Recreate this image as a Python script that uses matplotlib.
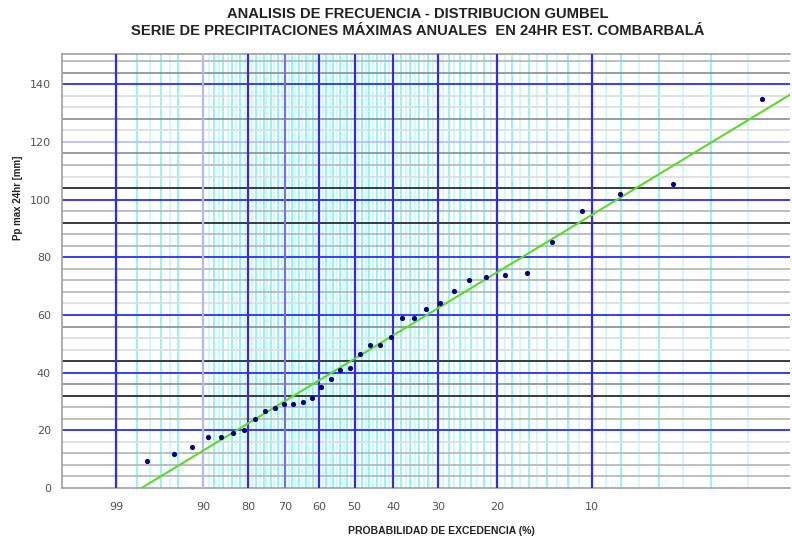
import numpy as np
import matplotlib.pyplot as plt

# Annual max 24h precipitation, sorted ascending (mm)
pp = [9.4, 11.9, 14.3, 17.8, 17.8, 18.9, 20.1, 24.1, 26.8, 27.6,
      29.0, 29.0, 29.9, 31.2, 34.9, 37.7, 40.9, 41.5, 46.4, 49.5,
      49.5, 52.4, 59.0, 59.0, 62.2, 64.0, 68.3, 72.0, 73.0, 73.7,
      74.6, 85.3, 96.0, 101.9, 105.4, 135.0]

# Gumbel fit (location, scale)
u_fit = 35.1
a_fit = 26.5

# Labelled exceedance probabilities (%)
major_p = [99, 90, 80, 70, 60, 50, 40, 30, 20, 10]
major_col = ['#2a2aff', '#b4b4ff', '#2a2aff', '#7070ff', '#2a2aff',
             '#2a2aff', '#2a2aff', '#2a2aff', '#2a2aff', '#2a2aff']

# minor cyan lines (%), missing a few near 90
minor_p = [p for p in range(3, 99) if p not in major_p and p not in (91, 92, 93)]

# Horizontal grid every 4 mm: shade codes (b=blue, lb=light blue, k=black, d=dark, g=gray, l=light)
h_levels = list(range(4, 152, 4))
h_shade = ['g', 'g', 'g', 'l', 'b', 'g', 'g', 'k', 'd', 'b',
           'k', 'l', 'l', 'd', 'b', 'l', 'g', 'g', 'g', 'b',
           'g', 'g', 'k', 'g', 'b', 'k', 'l', 'g', 'd', 'lb',
           'l', 'd', 'l', 'l', 'b', 'd', 'g']

shade_col = {'b': '#3a3aff', 'lb': '#b8b8ff', 'k': '#3a3a3a', 'd': '#8c8c8c',
             'g': '#b4b4b4', 'l': '#dcdcdc'}


def red(p_exc):
    # Gumbel reduced variate from exceedance probability in %
    F = 1 - np.asarray(p_exc, dtype=float) / 100.0
    return -np.log(-np.log(F))


fig = plt.figure(figsize=(7.92, 5.43), dpi=100)
ax = fig.add_axes([62/792, 1-488/543, 728/792, 434/543])

x_lo = red(99) - 54/126
x_hi = red(99) + 674/126
ax.set_xlim(x_lo, x_hi)
ax.set_ylim(0, 150.5)

# minor cyan verticals
for p in minor_p:
    c = '#6ff5f5' if p % 2 == 0 else '#bff9f9'
    ax.axvline(red(p), color=c, lw=1.1, zorder=1)

# horizontal grid
for lv, s in zip(h_levels, h_shade):
    lw = 1.4 if s in ('k', 'b') else 1.2
    ax.axhline(lv, color=shade_col[s], lw=lw, zorder=2)

# major verticals
for p, c in zip(major_p, major_col):
    ax.axvline(red(p), color=c, lw=1.6, zorder=3)

# fitted Gumbel line
xs = np.linspace(x_lo, x_hi, 50)
ax.plot(xs, u_fit + a_fit * xs, color='#5fd82a', lw=1.5, zorder=4)

# observed points, Weibull plotting position
n = len(pp)
p_exc = [(n - i) / (n + 1) * 100 for i in range(n)]
ax.scatter(red(p_exc), pp, s=14, color='#000080', zorder=5, linewidths=0)

ax.set_xticks(red(major_p))
ax.set_xticklabels([str(p) for p in major_p])
ax.set_yticks(range(0, 141, 20))
ax.tick_params(axis='both', length=0, labelsize=8, labelcolor='#555555', pad=10)
ax.tick_params(axis='y', pad=8)

for sp in ax.spines.values():
    sp.set_color('#a0a0a0')
    sp.set_linewidth(1.2)
ax.spines['right'].set_visible(False)

fig.text(0.528, 1-14/543, 'ANALISIS DE FRECUENCIA - DISTRIBUCION GUMBEL',
         ha='center', va='center', fontsize=10.6, fontweight='bold',
         family='Liberation Sans', color='#222222')
fig.text(0.528, 1-31/543, 'SERIE DE PRECIPITACIONES MÁXIMAS ANUALES  EN 24HR EST. COMBARBALÁ',
         ha='center', va='center', fontsize=10.6, fontweight='bold',
         family='Liberation Sans', color='#222222')
fig.text(441/792, 1-531/543, 'PROBABILIDAD DE EXCEDENCIA (%)',
         ha='center', va='center', fontsize=7.5, fontweight='bold',
         family='Liberation Sans', color='#222222')
fig.text(18/792, 1-198/543, 'Pp max 24hr [mm]', rotation=90,
         ha='center', va='center', fontsize=7, fontweight='bold',
         family='Liberation Sans', color='#222222')

fig.savefig('out.png', dpi=100)
